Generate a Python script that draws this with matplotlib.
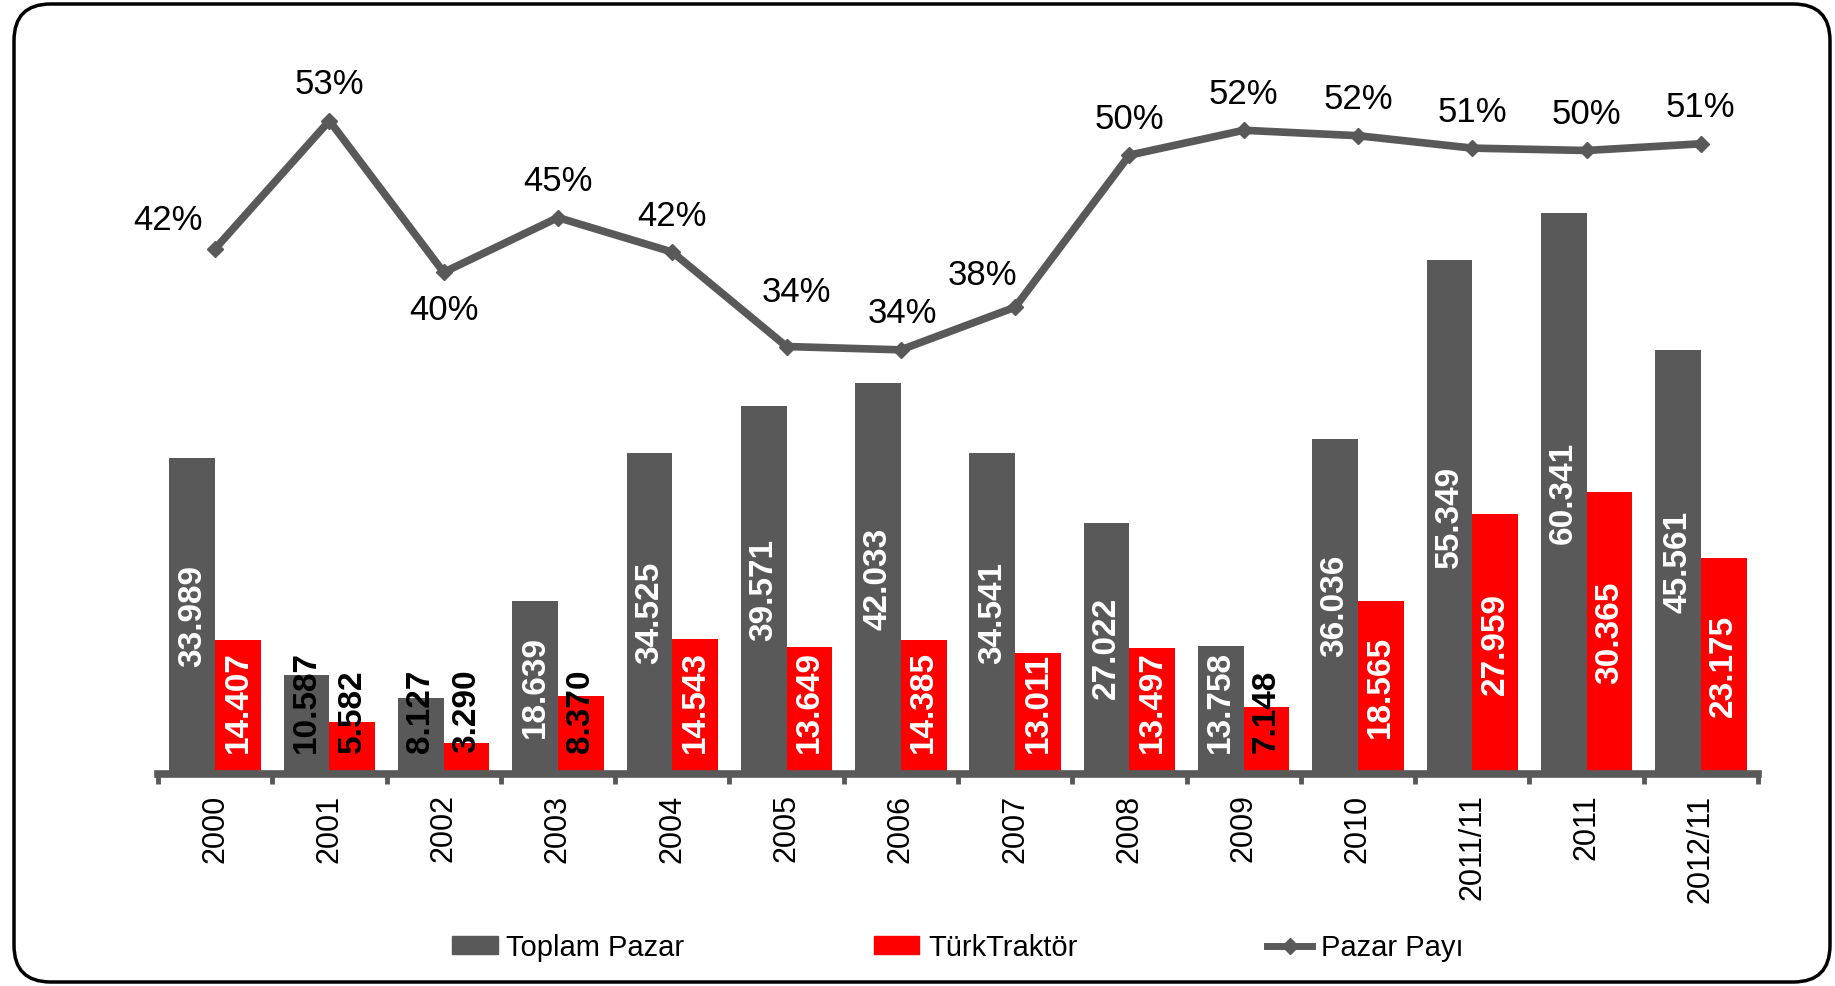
import numpy as np
import matplotlib
matplotlib.use("Agg")
import matplotlib.pyplot as plt
from matplotlib.patches import FancyBboxPatch
from matplotlib.lines import Line2D
from matplotlib.patches import Patch

categories = ["2000", "2001", "2002", "2003", "2004", "2005", "2006", "2007",
              "2008", "2009", "2010", "2011/11", "2011", "2012/11"]
toplam = [33989, 10587, 8127, 18639, 34525, 39571, 42033, 34541,
          27022, 13758, 36036, 55349, 60341, 45561]
turk = [14407, 5582, 3290, 8370, 14543, 13649, 14385, 13011,
        13497, 7148, 18565, 27959, 30365, 23175]
pay_labels = ["42%", "53%", "40%", "45%", "42%", "34%", "34%", "38%",
              "50%", "52%", "52%", "51%", "50%", "51%"]

GRAY = "#595959"
RED = "#FF0000"
NARROW = ["Liberation Sans Narrow", "Liberation Sans", "DejaVu Sans"]

pay = [t / s for t, s in zip(turk, toplam)]
x = np.arange(len(categories))
w = 0.4

fig = plt.figure(figsize=(18.35, 9.86), dpi=100)
ax = fig.add_axes([0.0861, 0.2154, 0.8719, 0.7535])

b1 = ax.bar(x - w / 2, toplam, w, color=GRAY, zorder=2)
b2 = ax.bar(x + w / 2, turk, w, color=RED, zorder=2)
ax.set_xlim(-0.5, len(categories) - 0.5)
ax.set_ylim(0, 80000)

for s in ["top", "left", "right"]:
    ax.spines[s].set_visible(False)
ax.spines["bottom"].set_color(GRAY)
ax.spines["bottom"].set_linewidth(5.5)
ax.set_yticks([])
ax.set_xticks(np.arange(-0.5, len(categories), 1.0))
ax.set_xticklabels([])
ax.tick_params(axis="x", which="major", length=7, width=3.5, color=GRAY, direction="out")
ax.set_xticks(x, minor=True)
ax.set_xticklabels(categories, minor=True, rotation=90, fontsize=22,
                   family=["Liberation Sans"], va="top")
ax.tick_params(axis="x", which="minor", length=0, pad=15)

# secondary axis for market share
ax2 = ax.twinx()
ax2.set_ylim(0, 0.6)
ax2.axis("off")
ax2.plot(x, pay, color=GRAY, lw=5.5, marker="D", ms=8, zorder=3)

offsets = [(-47, 28), (0, 36), (0, -38), (0, 36), (0, 36), (10, 54), (2, 36),
           (-33, 32), (0, 36), (0, 36), (0, 36), (0, 36), (0, 36), (0, 36)]
for xi, p, lab, off in zip(x, pay, pay_labels, offsets):
    ax2.annotate(lab, (xi, p), xytext=off, textcoords="offset pixels",
                 ha="center", va="center", fontsize=25, family=NARROW)

# bar value labels
fig.canvas.draw()
renderer = fig.canvas.get_renderer()
y0 = ax.transData.transform((0, 0))[1]
min_px = 21
for bars, vals in [(b1, toplam), (b2, turk)]:
    for bar, v in zip(bars, vals):
        cx = bar.get_x() + bar.get_width() / 2
        lab = f"{v / 1000:.3f}"
        t = ax.text(cx, v / 2, lab, rotation=90, ha="center", va="center",
                    fontsize=24, fontweight="bold", family=["Liberation Sans"],
                    color="white", zorder=4)
        h = t.get_window_extent(renderer).height
        bar_px = ax.transData.transform((0, v))[1] - y0
        if h > bar_px:
            t.set_color("black")
        if bar_px / 2 - h / 2 < min_px:
            ybot = ax.transData.inverted().transform((0, y0 + min_px))[1]
            t.set_y(ybot)
            t.set_va("bottom")

handles = [Patch(color=GRAY), Patch(color=RED),
           Line2D([], [], color=GRAY, lw=5, marker="D", ms=8)]
fig.legend(handles, ["Toplam Pazar", "TürkTraktör", "Pazar Payı"],
           loc="center", bbox_to_anchor=(0.522, 0.039), ncol=3, frameon=False,
           prop={"family": NARROW, "size": 21}, handlelength=1.55,
           handleheight=0.55, handletextpad=0.3, columnspacing=6.5)

border = FancyBboxPatch((14 / 1835, 4 / 986), 1816 / 1835, 978 / 986,
                        boxstyle="round,pad=0,rounding_size=0.02",
                        transform=fig.transFigure, fill=False, lw=2.5,
                        ec="black", mutation_aspect=1835 / 986)
fig.patches.append(border)

fig.savefig("out.png", dpi=100)
